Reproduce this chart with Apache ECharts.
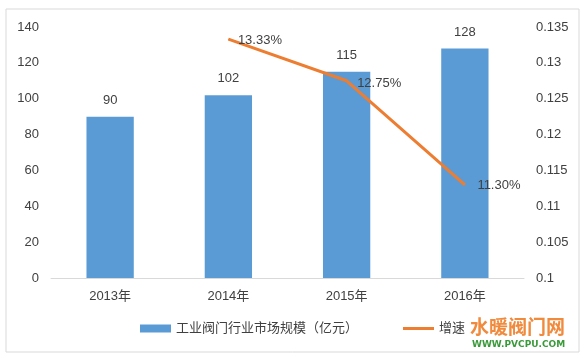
<!DOCTYPE html>
<html><head><meta charset="utf-8">
<script src="https://cdn.jsdelivr.net/npm/echarts@6/dist/echarts.min.js"></script>
<style>html,body{margin:0;padding:0;background:#fff}#c{width:587px;height:358px}</style>
</head><body><div id="c"></div>
<script>
const categories = ['2013年','2014年','2015年','2016年'];
const marketSize = [90, 102, 115, 128];
const growth = [null, 0.1333, 0.1275, 0.1130];
const growthLabels = ['', '13.33%', '12.75%', '11.30%'];
const barName = '工业阀门行业市场规模（亿元）';
const lineName = '增速';

const font = '"Liberation Sans", "Noto Sans CJK SC", sans-serif';
const chart = echarts.init(document.getElementById('c'));
chart.setOption({
  animation: false,
  backgroundColor: '#fff',
  textStyle: {fontFamily: font},
  grid: {left: 51, right: 63, top: 27, bottom: 80},
  legend: {
    bottom: 18, left: 135, itemGap: 45, itemWidth: 31, itemHeight: 8,
    textStyle: {fontSize: 13, color: '#404040', fontFamily: font},
    data: [{name: barName, icon: 'rect'}, {name: lineName, icon: 'path://M0,0h31v3h-31z'}]
  },
  xAxis: {
    type: 'category', data: categories,
    axisLine: {lineStyle: {color: '#d9d9d9'}},
    axisTick: {show: false},
    axisLabel: {color: '#404040', fontSize: 13, margin: 12}
  },
  yAxis: [{
    type: 'value', min: 0, max: 140, interval: 20,
    splitLine: {show: false}, axisLine: {show: false}, axisTick: {show: false},
    axisLabel: {color: '#404040', fontSize: 13, margin: 12}
  }, {
    type: 'value', min: 0.1, max: 0.135, interval: 0.005,
    splitLine: {show: false}, axisLine: {show: false}, axisTick: {show: false},
    axisLabel: {color: '#404040', fontSize: 13, margin: 12, formatter: v => String(+v.toFixed(3))}
  }],
  series: [{
    name: barName, type: 'bar', data: marketSize, barWidth: '40%',
    itemStyle: {color: '#5b9bd5'},
    label: {show: true, position: 'top', distance: 10, color: '#404040', fontSize: 13}
  }, {
    name: lineName, type: 'line', yAxisIndex: 1, data: growth,
    symbol: 'circle', symbolSize: 1, showSymbol: true,
    lineStyle: {color: '#ed7d31', width: 3}, itemStyle: {color: '#ed7d31'},
    label: {show: true, position: 'right', distance: 4, color: '#404040', fontSize: 13,
      formatter: p => growthLabels[p.dataIndex]},
    labelLayout: function(p){
      const offs = [[0,0],[5,1],[6,3],[8,1]];
      const o = offs[p.dataIndex] || [0,0];
      return {dx: o[0], dy: o[1]};
    }
  }],
  graphic: [{
    type: 'rect', shape: {x: 6, y: 9, width: 573, height: 343},
    style: {fill: 'none', stroke: '#d9d9d9', lineWidth: 1}, silent: true, z: -1
  }, {
    type: 'text', left: 470, top: 317,
    style: {text: '水暖阀门网', fill: '#f08a3c', font: 'bold 19px "Noto Sans CJK SC"'}
  }, {
    type: 'text', left: 472, top: 340,
    style: {text: 'WWW.PVCPU.COM', fill: '#3a9a3a', font: 'bold 9px "DejaVu Sans"'}
  }]
});
</script></body></html>
